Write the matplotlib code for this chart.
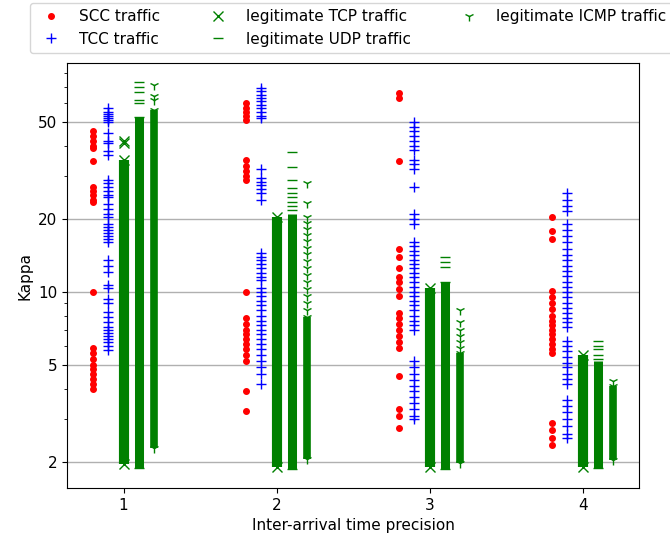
import matplotlib
matplotlib.use('Agg')
import matplotlib.pyplot as plt
from matplotlib.ticker import NullFormatter

plt.rcParams['font.size'] = 11

precisions = [1, 2, 3, 4]
xtick_labels = ['1', '2', '3', '4']
ytick_vals = [2, 5, 10, 20, 50]
ytick_labels = ['2', '5', '10', '20', '50']

# kappa values, one list per precision level
scc_vals = [
    [46, 44, 42, 40, 39, 34.5, 27, 26, 25, 24, 23.5, 10, 5.9, 5.6, 5.3, 5.0, 4.8, 4.6, 4.4, 4.2, 4.0],
    [60, 57, 55, 53, 51, 35, 33, 31.5, 30, 29, 10, 7.8, 7.4, 7.0, 6.7, 6.4, 6.1, 5.8, 5.5, 5.2, 3.9, 3.25],
    [66, 63, 34.5, 15, 14, 12.5, 11.5, 11, 10.3, 9.6, 8.2, 7.8, 7.4, 7.0, 6.6, 6.2, 5.9, 4.5, 3.3, 3.1, 2.75],
    [20.3, 17.8, 16.6, 10.1, 9.5, 9.0, 8.5, 8.0, 7.6, 7.3, 7.0, 6.7, 6.4, 6.1, 5.8, 5.6, 2.9, 2.7, 2.5, 2.35],
]
tcc_vals = [
    [57, 55, 54, 53, 52, 51, 50, 45, 42, 41, 38, 36.5, 29, 28, 27, 26, 25, 24.5, 23, 22, 21, 20.3,
     19, 18.5, 18, 17.5, 17, 16.5, 16, 13.5, 12.8, 12.1, 10.7, 10.4, 9.4, 9.0, 8.3, 7.9, 7.5, 7.2,
     7.0, 6.8, 6.6, 6.4, 6.25, 6.0, 5.75],
    [69, 67, 65, 63, 61, 59, 57, 55, 53, 52, 32, 29.5, 28.5, 27.5, 26.5, 25.5, 24, 14.5, 14, 13.5,
     13, 12.5, 12, 11.5, 11.2, 10.4, 10, 9.6, 9.2, 8.8, 8.4, 8.0, 7.6, 7.3, 7.0, 6.7, 6.4, 6.1,
     5.8, 5.5, 5.2, 4.9, 4.6, 4.2],
    [50, 48, 46, 44, 42, 40, 38.5, 35, 33.5, 32, 27, 21, 20, 19, 16, 15.4, 14.8, 14.2, 13.6, 13,
     12.5, 12, 11.5, 11, 10.5, 10, 9.6, 9.2, 8.8, 8.4, 8.0, 7.6, 7.3, 7.0, 5.2, 4.9, 4.6, 4.35,
     4.1, 3.9, 3.7, 3.5, 3.3, 3.1, 3.0],
    [25.5, 24, 22.5, 21.5, 19, 18, 17, 16, 15, 14.2, 13.5, 12.8, 12.2, 11.6, 11, 10.5, 10, 9.5,
     9.0, 8.6, 8.2, 7.8, 7.5, 7.2, 6.3, 6.0, 5.7, 5.4, 5.1, 4.9, 4.6, 4.4, 4.2, 3.6, 3.4, 3.2,
     3.0, 2.8, 2.6, 2.5],
]
# legitimate traffic: isolated points plus the solid (lo, hi) ranges
tcp_vals = [[42, 41, 35, 1.95], [20.3, 1.9], [10.4, 1.9], [5.5, 1.9]]
tcp_bands = [(1.95, 35), (1.9, 20.3), (1.9, 10.4), (1.9, 5.5)]
udp_vals = [
    [73, 69.5, 66.5, 61.6, 60, 52.5, 1.89],
    [37.6, 32.7, 29, 26.8, 25.5, 24.5, 23.5, 22.5, 21.7, 1.86],
    [14, 13.3, 12.7, 11, 1.86],
    [6.3, 6.0, 5.8, 5.5, 5.3, 1.88],
]
udp_bands = [(1.89, 52.5), (1.86, 21), (1.86, 11), (1.88, 5.2)]
icmp_vals = [
    [71, 64, 62, 56, 2.27],
    [28, 23.2, 20.3, 19.3, 18.2, 17.2, 16.2, 15.2, 14.3, 13.4, 12.6, 11.8, 11, 10.3, 9.6, 9.0,
     8.4, 7.9, 2.05],
    [8.4, 7.5, 7.0, 6.6, 6.2, 5.9, 5.6, 1.98],
    [4.3, 4.1, 2.03],
]
icmp_bands = [(2.27, 56), (2.05, 7.9), (1.98, 5.6), (2.03, 4.1)]

#%%

fig = plt.figure(figsize=(6.7, 5.4), dpi=100)
ax = fig.add_axes([0.1, 0.0963, 0.854, 0.7867])

series = [
    ('SCC traffic', scc_vals, None, -0.2, 'r', '.', 8, 0),
    ('TCC traffic', tcc_vals, None, -0.1, 'b', '+', 6.5, 0),
    ('legitimate TCP traffic', tcp_vals, tcp_bands, 0.0, 'g', 'x', 6.5, 7.3),
    ('legitimate UDP traffic', udp_vals, udp_bands, 0.1, 'g', '_', 6.5, 6.5),
    ('legitimate ICMP traffic', icmp_vals, icmp_bands, 0.2, 'g', '1', 6.5, 5.5),
]

for label, vals, bands, off, color, marker, ms, band_lw in series:
    xs, ys = [], []
    for p, v in zip(precisions, vals):
        xs += [p + off] * len(v)
        ys += v
    ax.plot(xs, ys, linestyle='none', marker=marker, color=color, ms=ms, label=label)
    if bands is not None:
        for p, (lo, hi) in zip(precisions, bands):
            ax.vlines(p + off, lo, hi, color=color, lw=band_lw, zorder=2)

ax.set_yscale('log')
ax.set_ylim(1.56, 87.5)
ax.set_yticks(ytick_vals)
ax.set_yticklabels(ytick_labels)
ax.yaxis.set_minor_formatter(NullFormatter())
ax.set_xticks(precisions)
ax.set_xticklabels(xtick_labels)
ax.set_xlim(0.63, 4.37)
ax.yaxis.grid(True, color='#b0b0b0', lw=1)
ax.set_xlabel('Inter-arrival time precision')
ax.set_ylabel('Kappa')

fig.legend(loc='upper left', bbox_to_anchor=(30 / 670, 1 - 3 / 540), borderaxespad=0,
           ncol=3, columnspacing=2.8)

plt.savefig('out.png', dpi=100)
